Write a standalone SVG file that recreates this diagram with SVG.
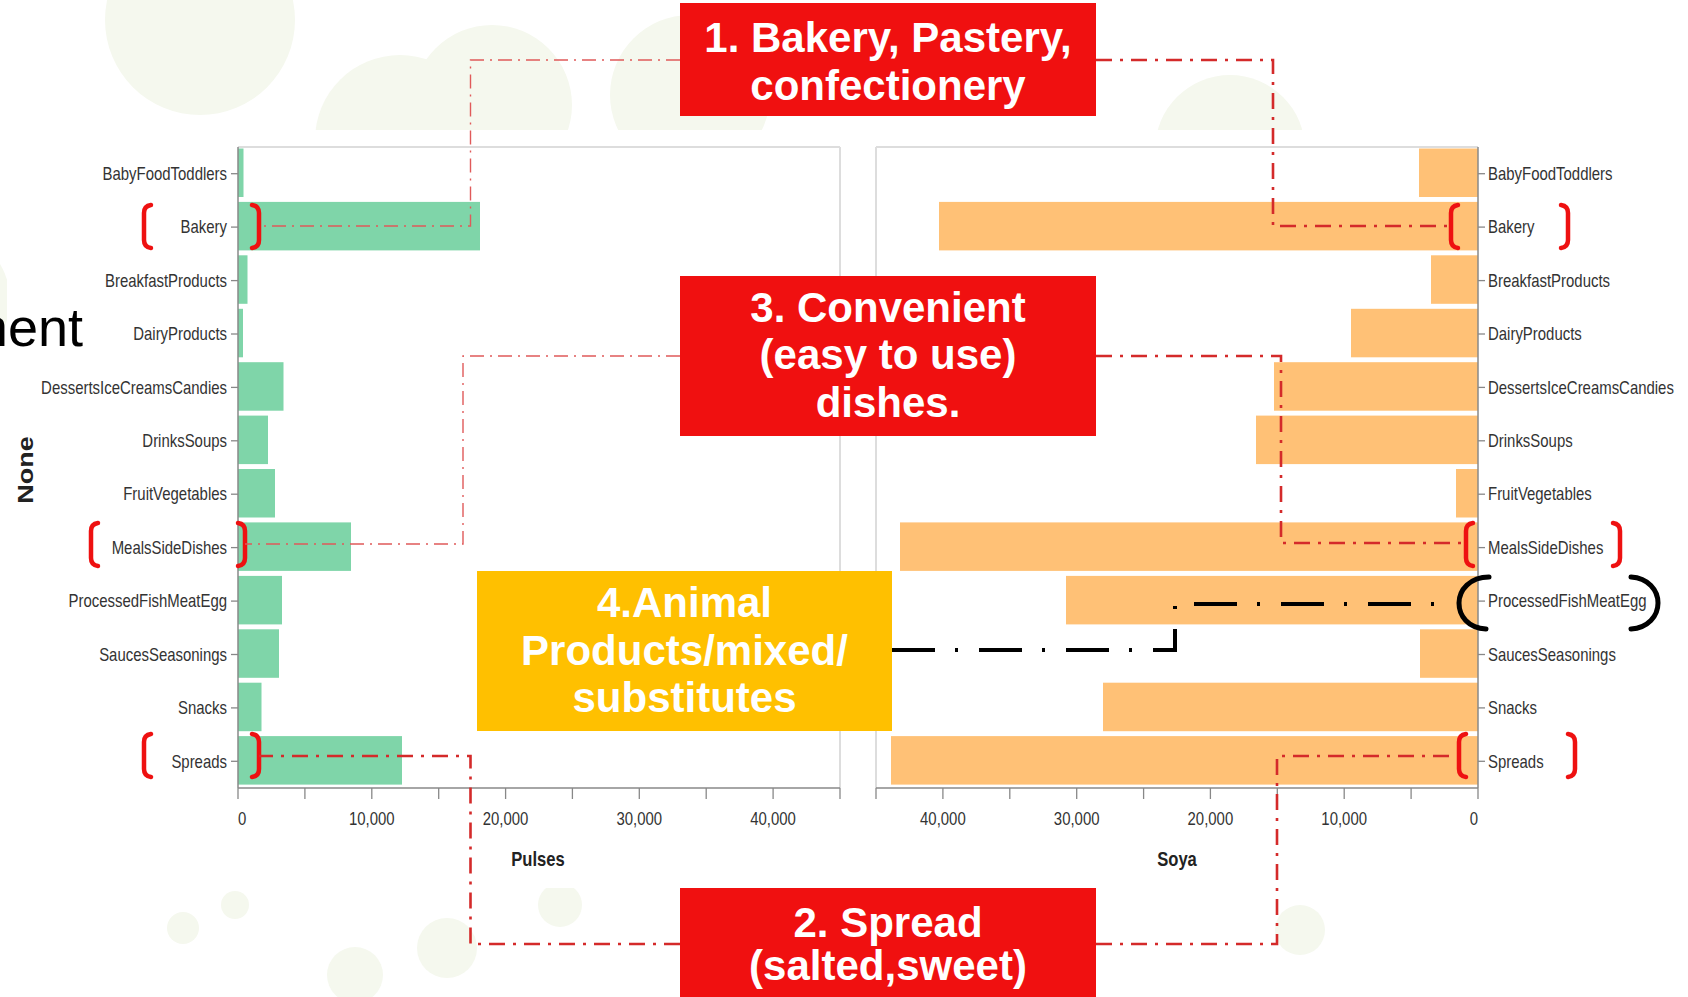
<svg xmlns="http://www.w3.org/2000/svg" width="1688" height="997" viewBox="0 0 1688 997">
<style>
.bg{fill:#f5f8ee}
.grid{stroke:#dddddd;stroke-width:2;fill:none}
.axis{stroke:#888888;stroke-width:1.5;fill:none}
.tick{stroke:#888888;stroke-width:1.3}
.lbl{font-family:"Liberation Sans",Arial,sans-serif;font-size:18px;fill:#333333}
.ttl{font-family:"Liberation Sans",Arial,sans-serif;font-size:20px;font-weight:bold;fill:#222222}
.pb{fill:#7fd5a9}
.sb{fill:#ffc176}
.box{font-family:"Liberation Sans",Arial,sans-serif;font-size:42px;font-weight:bold;fill:#ffffff;text-anchor:middle}
.red{fill:#f01010}
.yel{fill:#ffc000}
.cthin{fill:none;stroke:#e05a5a;stroke-width:1.4;stroke-dasharray:14 6 2 6}
.cthick{fill:none;stroke:#d42a2a;stroke-width:2.6;stroke-dasharray:16 8 3 8}
.cblack{fill:none;stroke:#000000;stroke-width:4;stroke-dasharray:43 20 3 21}
.rb{fill:none;stroke:#ee1111;stroke-width:4.5;stroke-linecap:round}
.bb{fill:none;stroke:#000000;stroke-width:5;stroke-linecap:round}
</style>
<defs>
<path id="lb" d="M8,0 Q1,1 1,8 L1,35 Q1,42 8,43"/>
<path id="rbk" d="M1,0 Q8,1 8,8 L8,35 Q8,42 1,43"/>
</defs>
<rect x="0" y="0" width="1688" height="997" fill="#ffffff"/>
<g id="background">
<circle class="bg" cx="200" cy="20" r="95"/>
<circle class="bg" cx="400" cy="140" r="85"/>
<circle class="bg" cx="492" cy="105" r="80"/>
<circle class="bg" cx="690" cy="95" r="80"/>
<circle class="bg" cx="1230" cy="150" r="75"/>
<circle class="bg" cx="-60" cy="300" r="70"/>
<circle class="bg" cx="183" cy="928" r="16"/>
<circle class="bg" cx="235" cy="905" r="14"/>
<circle class="bg" cx="355" cy="975" r="28"/>
<circle class="bg" cx="447" cy="948" r="30"/>
<circle class="bg" cx="560" cy="905" r="22"/>
<circle class="bg" cx="1300" cy="930" r="25"/>
</g>
<rect id="chartbg" x="7" y="130" width="1681" height="758" fill="#ffffff"/>
<g id="chart-pulses">
<line class="grid" x1="238" y1="147" x2="840" y2="147"/>
<line class="grid" x1="840" y1="147" x2="840" y2="788"/>
<rect class="pb" x="238" y="148.5" width="5.5" height="48.5"/>
<rect class="pb" x="238" y="201.9" width="242" height="48.5"/>
<rect class="pb" x="238" y="255.3" width="9.5" height="48.5"/>
<rect class="pb" x="238" y="308.8" width="5" height="48.5"/>
<rect class="pb" x="238" y="362.2" width="45.5" height="48.5"/>
<rect class="pb" x="238" y="415.6" width="30" height="48.5"/>
<rect class="pb" x="238" y="469" width="37" height="48.5"/>
<rect class="pb" x="238" y="522.4" width="113" height="48.5"/>
<rect class="pb" x="238" y="575.9" width="44" height="48.5"/>
<rect class="pb" x="238" y="629.3" width="41" height="48.5"/>
<rect class="pb" x="238" y="682.7" width="23.5" height="48.5"/>
<rect class="pb" x="238" y="736.1" width="164" height="48.5"/>
<line class="axis" x1="238" y1="147" x2="238" y2="788"/>
<line class="axis" x1="238" y1="788" x2="840" y2="788"/>
<g class="tick">
<line x1="231" y1="173.7" x2="238" y2="173.7"/><line x1="231" y1="227.1" x2="238" y2="227.1"/><line x1="231" y1="280.6" x2="238" y2="280.6"/><line x1="231" y1="334" x2="238" y2="334"/><line x1="231" y1="387.4" x2="238" y2="387.4"/><line x1="231" y1="440.8" x2="238" y2="440.8"/><line x1="231" y1="494.2" x2="238" y2="494.2"/><line x1="231" y1="547.6" x2="238" y2="547.6"/><line x1="231" y1="601.1" x2="238" y2="601.1"/><line x1="231" y1="654.5" x2="238" y2="654.5"/><line x1="231" y1="707.9" x2="238" y2="707.9"/><line x1="231" y1="761.3" x2="238" y2="761.3"/>
<line x1="238" y1="788" x2="238" y2="799"/><line x1="304.9" y1="788" x2="304.9" y2="799"/><line x1="371.8" y1="788" x2="371.8" y2="799"/><line x1="438.7" y1="788" x2="438.7" y2="799"/><line x1="505.6" y1="788" x2="505.6" y2="799"/><line x1="572.4" y1="788" x2="572.4" y2="799"/><line x1="639.3" y1="788" x2="639.3" y2="799"/><line x1="706.2" y1="788" x2="706.2" y2="799"/><line x1="773.1" y1="788" x2="773.1" y2="799"/><line x1="840" y1="788" x2="840" y2="799"/>
</g>
<g transform="scale(0.83,1)">
<g class="lbl" text-anchor="end">
<text x="273.5" y="180">BabyFoodToddlers</text>
<text x="273.5" y="233.4">Bakery</text>
<text x="273.5" y="286.9">BreakfastProducts</text>
<text x="273.5" y="340.3">DairyProducts</text>
<text x="273.5" y="393.7">DessertsIceCreamsCandies</text>
<text x="273.5" y="447.1">DrinksSoups</text>
<text x="273.5" y="500.5">FruitVegetables</text>
<text x="273.5" y="553.9">MealsSideDishes</text>
<text x="273.5" y="607.4">ProcessedFishMeatEgg</text>
<text x="273.5" y="660.8">SaucesSeasonings</text>
<text x="273.5" y="714.2">Snacks</text>
<text x="273.5" y="767.6">Spreads</text>
</g>
<g class="lbl" text-anchor="middle">
<text x="286.7" y="825" text-anchor="start">0</text>
<text x="448" y="825">10,000</text>
<text x="609.1" y="825">20,000</text>
<text x="770.2" y="825">30,000</text>
<text x="931.4" y="825">40,000</text>
</g>
<text class="ttl" x="648.2" y="866" text-anchor="middle">Pulses</text>
</g>
<text class="ttl" transform="translate(33,470) scale(0.83,1) rotate(-90)" style="font-size:27px" text-anchor="middle">None</text>
</g>
<g id="chart-soya">
<line class="grid" x1="876" y1="147" x2="1478" y2="147"/>
<line class="grid" x1="876" y1="147" x2="876" y2="788"/>
<rect class="sb" x="1419" y="148.5" width="59" height="48.5"/>
<rect class="sb" x="939" y="201.9" width="539" height="48.5"/>
<rect class="sb" x="1431" y="255.3" width="47" height="48.5"/>
<rect class="sb" x="1351" y="308.8" width="127" height="48.5"/>
<rect class="sb" x="1274" y="362.2" width="204" height="48.5"/>
<rect class="sb" x="1256" y="415.6" width="222" height="48.5"/>
<rect class="sb" x="1456" y="469" width="22" height="48.5"/>
<rect class="sb" x="900" y="522.4" width="578" height="48.5"/>
<rect class="sb" x="1066" y="575.9" width="412" height="48.5"/>
<rect class="sb" x="1420" y="629.3" width="58" height="48.5"/>
<rect class="sb" x="1103" y="682.7" width="375" height="48.5"/>
<rect class="sb" x="891" y="736.1" width="587" height="48.5"/>
<line class="axis" x1="1478" y1="147" x2="1478" y2="788"/>
<line class="axis" x1="876" y1="788" x2="1478" y2="788"/>
<g class="tick">
<line x1="1478" y1="173.7" x2="1485" y2="173.7"/><line x1="1478" y1="227.1" x2="1485" y2="227.1"/><line x1="1478" y1="280.6" x2="1485" y2="280.6"/><line x1="1478" y1="334" x2="1485" y2="334"/><line x1="1478" y1="387.4" x2="1485" y2="387.4"/><line x1="1478" y1="440.8" x2="1485" y2="440.8"/><line x1="1478" y1="494.2" x2="1485" y2="494.2"/><line x1="1478" y1="547.6" x2="1485" y2="547.6"/><line x1="1478" y1="601.1" x2="1485" y2="601.1"/><line x1="1478" y1="654.5" x2="1485" y2="654.5"/><line x1="1478" y1="707.9" x2="1485" y2="707.9"/><line x1="1478" y1="761.3" x2="1485" y2="761.3"/>
<line x1="876" y1="788" x2="876" y2="799"/><line x1="942.9" y1="788" x2="942.9" y2="799"/><line x1="1009.8" y1="788" x2="1009.8" y2="799"/><line x1="1076.7" y1="788" x2="1076.7" y2="799"/><line x1="1143.6" y1="788" x2="1143.6" y2="799"/><line x1="1210.4" y1="788" x2="1210.4" y2="799"/><line x1="1277.3" y1="788" x2="1277.3" y2="799"/><line x1="1344.2" y1="788" x2="1344.2" y2="799"/><line x1="1411.1" y1="788" x2="1411.1" y2="799"/><line x1="1478" y1="788" x2="1478" y2="799"/>
</g>
<g transform="scale(0.83,1)">
<g class="lbl" text-anchor="start">
<text x="1792.8" y="180">BabyFoodToddlers</text>
<text x="1792.8" y="233.4">Bakery</text>
<text x="1792.8" y="286.9">BreakfastProducts</text>
<text x="1792.8" y="340.3">DairyProducts</text>
<text x="1792.8" y="393.7">DessertsIceCreamsCandies</text>
<text x="1792.8" y="447.1">DrinksSoups</text>
<text x="1792.8" y="500.5">FruitVegetables</text>
<text x="1792.8" y="553.9">MealsSideDishes</text>
<text x="1792.8" y="607.4">ProcessedFishMeatEgg</text>
<text x="1792.8" y="660.8">SaucesSeasonings</text>
<text x="1792.8" y="714.2">Snacks</text>
<text x="1792.8" y="767.6">Spreads</text>
</g>
<g class="lbl" text-anchor="middle">
<text x="1136" y="825">40,000</text>
<text x="1297.2" y="825">30,000</text>
<text x="1458.3" y="825">20,000</text>
<text x="1619.5" y="825">10,000</text>
<text x="1780.7" y="825" text-anchor="end">0</text>
</g>
<text class="ttl" x="1418.1" y="866" text-anchor="middle">Soya</text>
</g>
</g>
<text id="ment" x="83" y="346" font-family="'Liberation Sans',Arial,sans-serif" font-size="54" fill="#000000" text-anchor="end">ment</text>
<g id="brackets">
<use href="#lb" class="rb" x="143" y="205"/>
<use href="#rbk" class="rb" x="251" y="205"/>
<use href="#lb" class="rb" x="90" y="523"/>
<use href="#rbk" class="rb" x="237" y="523"/>
<use href="#lb" class="rb" x="143" y="734"/>
<use href="#rbk" class="rb" x="251" y="734"/>
<use href="#lb" class="rb" x="1450" y="205"/>
<use href="#rbk" class="rb" x="1560" y="205"/>
<use href="#lb" class="rb" x="1465" y="523"/>
<use href="#rbk" class="rb" x="1612" y="523"/>
<use href="#lb" class="rb" x="1458" y="734"/>
<use href="#rbk" class="rb" x="1567" y="734"/>
<path class="bb" d="M1489,577 C1470,577 1459,590 1459,603 C1459,616 1468,628 1486,629"/>
<path class="bb" d="M1631,577 C1648,578 1658,590 1658,603 C1658,616 1648,628 1631,629"/>
</g>
<g id="connectors">
<polyline class="cthin" points="680,60 470.5,60 470.5,226 259,226"/>
<polyline class="cthick" points="1096,60 1273,60 1273,226 1452,226"/>
<polyline class="cthin" points="680,356 463,356 463,544 245,544"/>
<polyline class="cthick" points="1096,356 1281,356 1281,543 1465,543"/>
<polyline class="cthick" points="680,944 470.5,944 470.5,756 259,756"/>
<polyline class="cthick" points="1096,944 1277,944 1277,756 1452,756"/>
<polyline class="cblack" points="892,650 1175,650 1175,604 1445,604"/>
</g>
<g id="box1">
<rect class="red" x="680" y="3" width="416" height="113"/>
<text class="box" x="888" y="52">1. Bakery, Pastery,</text>
<text class="box" x="888" y="100">confectionery</text>
</g>
<g id="box3">
<rect class="red" x="680" y="276" width="416" height="160"/>
<text class="box" x="888" y="322">3. Convenient</text>
<text class="box" x="888" y="369">(easy to use)</text>
<text class="box" x="888" y="417">dishes.</text>
</g>
<g id="box4">
<rect class="yel" x="477" y="571" width="415" height="160"/>
<text class="box" x="684.5" y="617">4.Animal</text>
<text class="box" x="684.5" y="665">Products/mixed/</text>
<text class="box" x="684.5" y="712">substitutes</text>
</g>
<g id="box2">
<rect class="red" x="680" y="888" width="416" height="109"/>
<text class="box" x="888" y="937">2. Spread</text>
<text class="box" x="888" y="980">(salted,sweet)</text>
</g>
</svg>
